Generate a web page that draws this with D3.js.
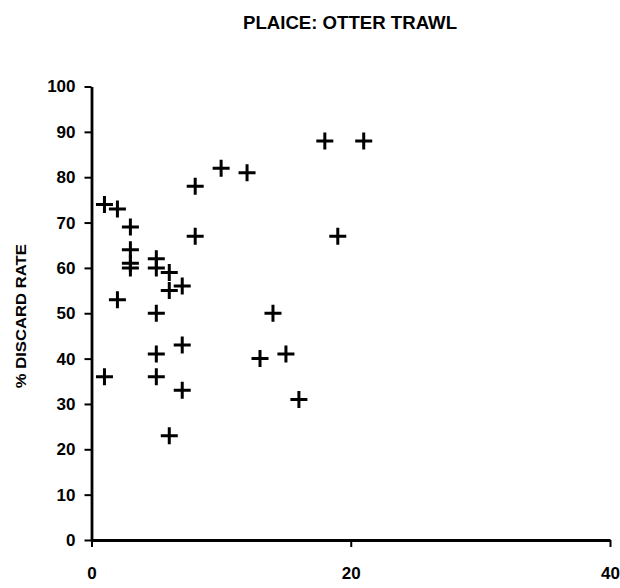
<!DOCTYPE html>
<html>
<head>
<meta charset="utf-8">
<script src="https://cdn.jsdelivr.net/npm/d3@7"></script>
<style>
  html, body { margin: 0; padding: 0; background: #fff; }
  svg { display: block; }
  text { font-family: "Liberation Sans", Arial, sans-serif; font-weight: bold; fill: #000; }
</style>
</head>
<body>
<svg id="chart" width="620" height="588"></svg>
<script>
// Plaice discards, otter trawl: x value and % discard rate for each observation
const xValues = [1, 2, 3, 3, 3, 3, 8, 10, 12, 8, 5, 5, 6, 6, 7, 2, 5, 14, 1, 5, 5, 7, 7, 6, 13, 15, 16, 18, 21, 19];
const discardRate = [74, 73, 69, 64, 61, 60, 78, 82, 81, 67, 62, 60, 59, 55, 56, 53, 50, 50, 36, 41, 36, 43, 33, 23, 40, 41, 31, 88, 88, 67];

const xTicks = [0, 20, 40];
const yTicks = [0, 10, 20, 30, 40, 50, 60, 70, 80, 90, 100];

const titleText = "PLAICE: OTTER TRAWL";
const yAxisTitle = "% DISCARD RATE";

const svg = d3.select("#chart");

const x = d3.scaleLinear().domain([0, 40]).range([91.5, 610]);
const y = d3.scaleLinear().domain([0, 100]).range([540, 86.5]);

// title
svg.append("text")
  .attr("x", 350).attr("y", 29)
  .attr("text-anchor", "middle")
  .attr("font-size", 18.5)
  .attr("textLength", 214)
  .attr("lengthAdjust", "spacingAndGlyphs")
  .text(titleText);

// y axis
const yAxis = svg.append("g")
  .attr("transform", `translate(${x(0)},0)`)
  .call(d3.axisLeft(y).tickValues(yTicks).tickSize(7).tickSizeOuter(0).tickPadding(9));
yAxis.select(".domain").attr("stroke", "#000").attr("stroke-width", 2.8);
yAxis.selectAll(".tick line").attr("stroke", "#000").attr("stroke-width", 2);
yAxis.selectAll(".tick text")
  .attr("font-family", "Liberation Sans, Arial, sans-serif")
  .attr("font-weight", "bold")
  .attr("font-size", 17)
  .attr("fill", "#000");

// x axis
const xAxis = svg.append("g")
  .attr("transform", `translate(0,${y(0)})`)
  .call(d3.axisBottom(x).tickValues(xTicks).tickSize(7).tickSizeOuter(0).tickPadding(20));
xAxis.select(".domain").attr("stroke", "#000").attr("stroke-width", 2.8);
xAxis.selectAll(".tick line").attr("stroke", "#000").attr("stroke-width", 2);
xAxis.selectAll(".tick text")
  .attr("font-family", "Liberation Sans, Arial, sans-serif")
  .attr("font-weight", "bold")
  .attr("font-size", 17)
  .attr("fill", "#000");

// y axis title
svg.append("text")
  .attr("transform", `translate(26,${y(50) + 3}) rotate(-90)`)
  .attr("text-anchor", "middle")
  .attr("font-size", 14)
  .attr("textLength", 144)
  .attr("lengthAdjust", "spacingAndGlyphs")
  .text(yAxisTitle);

// plus markers
const points = xValues.map((v, i) => ({ x: v, y: discardRate[i] }));
svg.append("g")
  .selectAll("path")
  .data(points)
  .join("path")
  .attr("transform", d => `translate(${x(d.x)},${y(d.y)})`)
  .attr("d", "M-8.5,0H8.5M0,-8.5V8.5")
  .attr("fill", "none")
  .attr("stroke", "#000")
  .attr("stroke-width", 3);
</script>
</body>
</html>
